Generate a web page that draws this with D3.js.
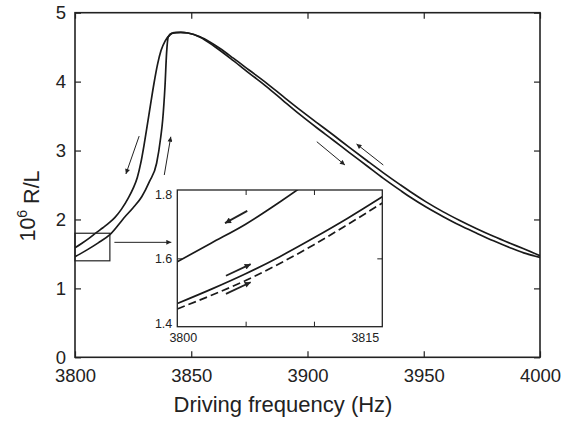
<!DOCTYPE html>
<html lang="en">
<head>
<meta charset="utf-8">
<title>R/L vs driving frequency</title>
<script src="https://d3js.org/d3.v7.min.js"></script>
<style>
	body { margin: 0; background: #fff; }
	text { font-family: "Liberation Sans", Arial, sans-serif; fill: #222; }
</style>
</head>
<body>
<svg class="chart"></svg>
<script>
// frequency sweep going down (4000 -> 3800 Hz), listed by increasing frequency
var downFreq = [3800, 3803, 3806, 3809, 3812, 3815, 3817.2, 3820, 3822.9, 3825, 3826.8, 3828.3, 3829.7, 3831, 3832.5, 3834, 3835.5, 3837, 3838.8, 3840.9,
	3842.5, 3845.5, 3848.6, 3853.8, 3858, 3862.4, 3868.1, 3875, 3882.5, 3889.5, 3896.8, 3904, 3911.1, 3918, 3925.5, 3932.5,
	3939.8, 3944.1, 3951, 3958.4, 3965.5, 3972.8, 3980, 3987.1, 3993, 4000];
var downVal = [1.59, 1.655, 1.725, 1.805, 1.88, 1.96, 2.03, 2.15, 2.31, 2.45, 2.61, 2.82, 3.08, 3.35, 3.67, 3.98, 4.25, 4.45, 4.59, 4.68,
	4.71, 4.715, 4.705, 4.65, 4.575, 4.48, 4.34, 4.165, 3.975, 3.785, 3.59, 3.405, 3.225, 3.045, 2.855, 2.68,
	2.505, 2.405, 2.255, 2.11, 1.985, 1.865, 1.755, 1.655, 1.575, 1.475];

// frequency sweep going up (3800 -> 4000 Hz)
var upFreq = [3800, 3805, 3810, 3815, 3821.5, 3825, 3828.7, 3832, 3835.1, 3836.9, 3837.7, 3838.7, 3839.4, 3840.1, 3841.5,
	3845.5, 3848.6, 3853.8, 3860, 3868.1, 3875, 3882.5, 3889.5, 3896.8, 3904, 3911.1, 3918, 3925.5, 3932.5,
	3939.8, 3944.1, 3951, 3958.4, 3965.5, 3972.8, 3980, 3987.1, 3993, 4000];
var upVal = [1.46, 1.555, 1.66, 1.78, 2.04, 2.17, 2.33, 2.55, 2.815, 3.20, 3.44, 3.93, 4.42, 4.65, 4.70,
	4.715, 4.705, 4.645, 4.51, 4.305, 4.12, 3.925, 3.725, 3.52, 3.33, 3.15, 2.97, 2.78, 2.60,
	2.425, 2.325, 2.18, 2.04, 1.915, 1.80, 1.69, 1.59, 1.515, 1.45];

// zoomed inset, 3800 - 3815 Hz
var insetFreq = [3800, 3802.5, 3805, 3807.5, 3810, 3812.5, 3815];
var insetDown = [1.59, 1.645, 1.70, 1.765, 1.835, 1.91, 1.99];
var insetUp = [1.468, 1.51, 1.555, 1.605, 1.66, 1.718, 1.78];
var insetUpDashed = [1.452, 1.492, 1.535, 1.585, 1.64, 1.70, 1.762];

// tick values
var xTicks = [3800, 3850, 3900, 3950, 4000];
var yTicks = [0, 1, 2, 3, 4, 5];
var insetXTicks = [3800, 3805, 3810, 3815];
var insetYTicks = [1.4, 1.6, 1.8];

// direction arrows [f1, v1, f2, v2] in data units
var mainArrows = [
	[3827.6, 3.21, 3821.9, 2.66],
	[3838.4, 2.645, 3841.2, 3.20],
	[3904.0, 3.128, 3916.1, 2.79],
	[3932.6, 2.79, 3921.1, 3.095]
];
var insetArrows = [
	[3805.12, 1.739, 3803.49, 1.703],
	[3803.56, 1.549, 3805.37, 1.583],
	[3803.56, 1.496, 3805.37, 1.530]
];
// zoom box in the main chart [f1, f2, v1, v2]
var zoomBox = [3800, 3815, 1.4, 1.8];

//set up chart
var W = 563, H = 432;
var plot = {left: 75, right: 540, top: 12.7, bottom: 357.3};
var ins = {left: 177.3, right: 382.3, top: 190, bottom: 326.7};

var svg = d3.select(".chart")
	.attr("width", W)
	.attr("height", H);

var defs = svg.append("defs");
defs.append("marker")
	.attr("id", "headS")
	.attr("markerUnits", "userSpaceOnUse")
	.attr("viewBox", "0 -5 10 10")
	.attr("refX", 10).attr("refY", 0)
	.attr("markerWidth", 7).attr("markerHeight", 5)
	.attr("orient", "auto")
	.append("path").attr("d", "M0,-5L10,0L0,5Z").attr("fill", "#222");
defs.append("marker")
	.attr("id", "headL")
	.attr("markerUnits", "userSpaceOnUse")
	.attr("viewBox", "0 -5 10 10")
	.attr("refX", 10).attr("refY", 0)
	.attr("markerWidth", 9).attr("markerHeight", 6)
	.attr("orient", "auto")
	.append("path").attr("d", "M0,-5L10,0L0,5Z").attr("fill", "#222");

defs.append("clipPath").attr("id", "clipMain")
	.append("rect")
	.attr("x", plot.left).attr("y", plot.top)
	.attr("width", plot.right - plot.left).attr("height", plot.bottom - plot.top);
defs.append("clipPath").attr("id", "clipInset")
	.append("rect")
	.attr("x", ins.left).attr("y", ins.top)
	.attr("width", ins.right - ins.left).attr("height", ins.bottom - ins.top);

var x = d3.scaleLinear().domain([3800, 4000]).range([plot.left, plot.right]);
var y = d3.scaleLinear().domain([0, 5]).range([plot.bottom, plot.top]);
var xi = d3.scaleLinear().domain([3800, 3815]).range([ins.left, ins.right]);
var yi = d3.scaleLinear().domain([1.4, 1.8]).range([ins.bottom, ins.top]);

function zip(a, b) { return a.map(function(d, i) { return [d, b[i]]; }); }

var line = d3.line()
	.x(function(d) { return x(d[0]); })
	.y(function(d) { return y(d[1]); })
	.curve(d3.curveMonotoneX);

var lineIn = d3.line()
	.x(function(d) { return xi(d[0]); })
	.y(function(d) { return yi(d[1]); })
	.curve(d3.curveMonotoneX);

//main axes (ticks pointing inward)
function styleAxis(g) {
	g.select(".domain").remove();
	g.selectAll(".tick line").attr("stroke", "#222").attr("stroke-width", 1.2);
	g.selectAll(".tick text").style("font-size", "18.5px").attr("fill", "#222");
}
svg.append("g")
	.attr("transform", "translate(0," + plot.bottom + ")")
	.call(d3.axisBottom(x).tickValues(xTicks).tickSize(-6).tickPadding(9).tickFormat(d3.format("d")))
	.call(styleAxis)
	.selectAll(".tick text").attr("dy", "0.76em").attr("y", 10.5);
svg.append("g")
	.attr("transform", "translate(0," + plot.top + ")")
	.call(d3.axisTop(x).tickValues(xTicks).tickSize(-6).tickFormat(""))
	.call(styleAxis);
svg.append("g")
	.attr("transform", "translate(" + plot.left + ",0)")
	.call(d3.axisLeft(y).tickValues(yTicks).tickSize(-6).tickPadding(9).tickFormat(d3.format("d")))
	.call(styleAxis);
svg.append("g")
	.attr("transform", "translate(" + plot.right + ",0)")
	.call(d3.axisRight(y).tickValues(yTicks).tickSize(-6).tickFormat(""))
	.call(styleAxis);

svg.append("rect")
	.attr("x", plot.left).attr("y", plot.top)
	.attr("width", plot.right - plot.left).attr("height", plot.bottom - plot.top)
	.attr("fill", "none").attr("stroke", "#222").attr("stroke-width", 1.6);

//curves
var curves = svg.append("g").attr("clip-path", "url(#clipMain)");
curves.append("path")
	.datum(zip(downFreq, downVal))
	.attr("d", line)
	.attr("fill", "none").attr("stroke", "#1a1a1a").attr("stroke-width", 1.7);
curves.append("path")
	.datum(zip(upFreq, upVal))
	.attr("d", line)
	.attr("fill", "none").attr("stroke", "#1a1a1a").attr("stroke-width", 1.7);

//arrows
svg.selectAll(".arrow")
	.data(mainArrows)
	.enter().append("line")
	.attr("class", "arrow")
	.attr("x1", function(d) { return x(d[0]); })
	.attr("y1", function(d) { return y(d[1]); })
	.attr("x2", function(d) { return x(d[2]); })
	.attr("y2", function(d) { return y(d[3]); })
	.attr("stroke", "#222").attr("stroke-width", 1)
	.attr("marker-end", "url(#headS)");

//zoom box and pointer
svg.append("rect")
	.attr("x", x(zoomBox[0])).attr("y", y(zoomBox[3]))
	.attr("width", x(zoomBox[1]) - x(zoomBox[0]))
	.attr("height", y(zoomBox[2]) - y(zoomBox[3]))
	.attr("fill", "none").attr("stroke", "#222").attr("stroke-width", 1.2);
svg.append("line")
	.attr("x1", x(zoomBox[1]) + 4.5).attr("x2", ins.left - 6)
	.attr("y1", y(1.668)).attr("y2", y(1.668))
	.attr("stroke", "#222").attr("stroke-width", 1)
	.attr("marker-end", "url(#headS)");

//inset
var inset = svg.append("g");
inset.append("rect")
	.attr("x", ins.left).attr("y", ins.top)
	.attr("width", ins.right - ins.left).attr("height", ins.bottom - ins.top)
	.attr("fill", "#fff");

function styleInsetAxis(g) {
	g.select(".domain").remove();
	g.selectAll(".tick line").attr("stroke", "#222").attr("stroke-width", 1);
	g.selectAll(".tick text").style("font-size", "12.5px").attr("fill", "#222");
}
var midX = insetXTicks.slice(1, -1);
inset.append("g")
	.attr("transform", "translate(0," + ins.bottom + ")")
	.call(d3.axisBottom(xi).tickValues(midX).tickSize(-5).tickFormat(""))
	.call(styleInsetAxis);
inset.append("g")
	.attr("transform", "translate(0," + ins.top + ")")
	.call(d3.axisTop(xi).tickValues(midX).tickSize(-5).tickFormat(""))
	.call(styleInsetAxis);
inset.append("g")
	.attr("transform", "translate(" + ins.left + ",0)")
	.call(d3.axisLeft(yi).tickValues([1.6]).tickSize(-5).tickFormat(""))
	.call(styleInsetAxis);
inset.append("g")
	.attr("transform", "translate(" + ins.right + ",0)")
	.call(d3.axisRight(yi).tickValues([1.6]).tickSize(-5).tickFormat(""))
	.call(styleInsetAxis);

// inset tick labels, end labels pulled inside the frame
inset.selectAll(".ylab")
	.data(insetYTicks)
	.enter().append("text")
	.attr("class", "ylab")
	.attr("x", ins.left - 5)
	.attr("y", function(d, i) { return yi(d) + [-3.5, 0, 4][i]; })
	.attr("dy", "0.36em")
	.attr("text-anchor", "end")
	.style("font-size", "12.5px")
	.text(d3.format(".1f"));
inset.selectAll(".xlab")
	.data([insetXTicks[0], insetXTicks[insetXTicks.length - 1]])
	.enter().append("text")
	.attr("class", "xlab")
	.attr("x", function(d, i) { return xi(d) + [6, -17][i]; })
	.attr("y", ins.bottom + 15.5)
	.attr("text-anchor", "middle")
	.style("font-size", "12.5px")
	.text(d3.format("d"));

var inCurves = inset.append("g").attr("clip-path", "url(#clipInset)");
inCurves.append("path")
	.datum(zip(insetFreq, insetDown))
	.attr("d", lineIn)
	.attr("fill", "none").attr("stroke", "#1a1a1a").attr("stroke-width", 1.7);
inCurves.append("path")
	.datum(zip(insetFreq, insetUp))
	.attr("d", lineIn)
	.attr("fill", "none").attr("stroke", "#1a1a1a").attr("stroke-width", 1.7);
inCurves.append("path")
	.datum(zip(insetFreq, insetUpDashed))
	.attr("d", lineIn)
	.attr("fill", "none").attr("stroke", "#1a1a1a").attr("stroke-width", 1.7)
	.attr("stroke-dasharray", "8,4");

inset.selectAll(".iarrow")
	.data(insetArrows)
	.enter().append("line")
	.attr("class", "iarrow")
	.attr("x1", function(d) { return xi(d[0]); })
	.attr("y1", function(d) { return yi(d[1]); })
	.attr("x2", function(d) { return xi(d[2]); })
	.attr("y2", function(d) { return yi(d[3]); })
	.attr("stroke", "#222").attr("stroke-width", 1.8)
	.attr("marker-end", "url(#headL)");

inset.append("rect")
	.attr("x", ins.left).attr("y", ins.top)
	.attr("width", ins.right - ins.left).attr("height", ins.bottom - ins.top)
	.attr("fill", "none").attr("stroke", "#222").attr("stroke-width", 1.3);

//axis titles
svg.append("text")
	.attr("x", 283)
	.attr("y", 412)
	.attr("text-anchor", "middle")
	.style("font-size", "22px")
	.text("Driving frequency (Hz)");

var yt = svg.append("text")
	.attr("transform", "translate(35,206) rotate(-90)")
	.attr("text-anchor", "middle")
	.style("font-size", "21.5px");
yt.append("tspan").text("10");
yt.append("tspan").attr("dy", "-0.55em").style("font-size", "14px").text("6");
yt.append("tspan").attr("dy", "0.55em").text("\u00a0R/L");
</script>
</body>
</html>
